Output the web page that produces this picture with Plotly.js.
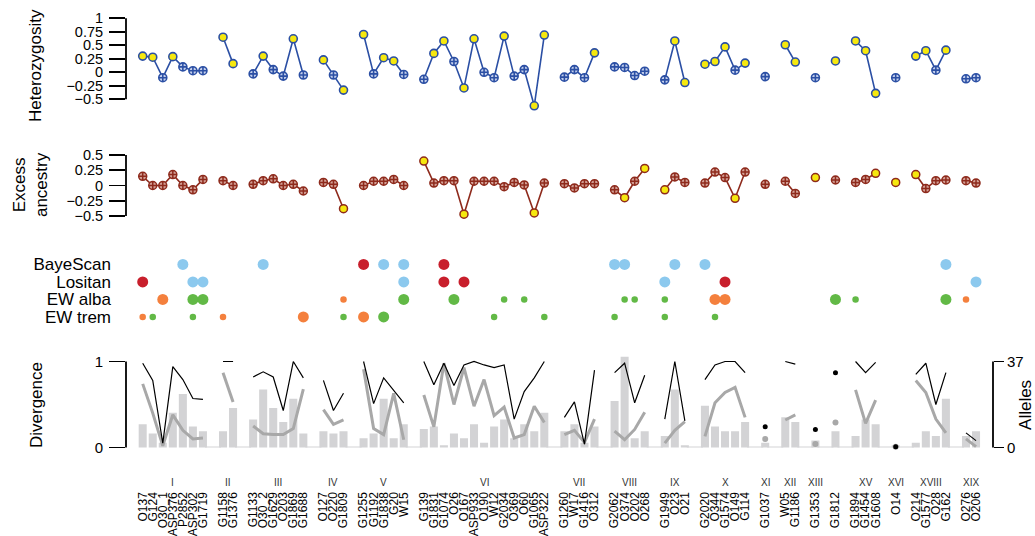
<!DOCTYPE html>
<html><head><meta charset="utf-8">
<script src="https://cdn.plot.ly/plotly-3.0.1.min.js"></script>
<style>html,body{margin:0;padding:0;background:#fff}#chart{width:1035px;height:536px}</style>
</head><body><div id="chart"></div>
<script>
// ---------------- data ----------------
const groupNames = ['I','II','III','IV','V','VI','VII','VIII','IX','X','XI','XII','XIII','','XV','XVI','XVIII','XIX'];
const groupSizes = [7,2,6,3,5,13,4,4,3,5,1,2,1,1,3,1,4,2];
const loci = ['O137','G124','O30_1','ASP376','P2852','ASP302','G1719',
  'G1158','G1376',
  'G1133','O30_2','G1629','O203','G1869','G1688',
  'O127','O220','G1809',
  'G1255','G1192','G1838','G20','W15',
  'G139','G1831','G1074','O26','O167','ASP933','O190','W12','G2034','O369','O60','G1065','ASP322',
  'G1260','W17','G1416','O312',
  'G2062','O374','O202','O268',
  'G1949','O23','O21',
  'G2020','O344','G1574','O149','G114',
  'G1037',
  'W05','G1186',
  'G1353',
  'G1812',
  'G1894','G1454','G1608',
  'O14',
  'O214','G1577','O28','G162',
  'O276','O206'];
const heterozygosity = [0.30,0.28,-0.10,0.29,0.10,0.03,0.03,
  0.65,0.16,
  -0.03,0.30,0.05,-0.07,0.62,-0.05,
  0.23,-0.05,-0.33,
  0.70,-0.03,0.27,0.21,-0.04,
  -0.13,0.35,0.58,0.20,-0.29,0.62,0.00,-0.10,0.67,-0.07,0.05,-0.62,0.69,
  -0.09,0.05,-0.10,0.36,
  0.10,0.09,-0.06,0.02,
  -0.14,0.58,-0.19,
  0.15,0.20,0.47,0.04,0.17,
  -0.08,
  0.51,0.19,
  -0.10,
  0.21,
  0.58,0.40,-0.39,
  -0.10,
  0.30,0.40,0.04,0.41,
  -0.12,-0.10];
const heterozygositySignificant = [1,1,0,1,0,0,0,
  1,1,
  0,1,0,0,1,0,
  1,0,1,
  1,0,1,1,0,
  0,1,1,0,1,1,0,0,1,0,0,1,1,
  0,0,0,1,
  0,0,0,0,
  0,1,1,
  1,1,1,0,1,
  0,
  1,1,
  0,
  1,
  1,1,1,
  0,
  1,1,0,1,
  0,0];
const excessAncestry = [0.15,0,0,0.18,0,-0.07,0.10,
  0.08,0,
  0.02,0.08,0.11,0,0.02,-0.09,
  0.05,0.02,-0.38,
  0,0.07,0.07,0.10,0,
  0.40,0.04,0.08,0.08,-0.47,0.07,0.07,0.07,-0.02,0.05,0.01,-0.45,0.04,
  0.03,-0.04,0.03,0.03,
  -0.07,-0.20,0.07,0.28,
  -0.07,0.14,0.05,
  0.04,0.22,0.13,-0.21,0.22,
  0.02,
  0.07,-0.13,
  0.13,
  0.09,
  0.05,0.10,0.20,
  0.05,
  0.18,-0.05,0.08,0.09,
  0.08,0.04];
const ancestrySignificant = [0,0,0,0,0,0,0,
  0,0,
  0,0,0,0,0,0,
  0,0,1,
  0,0,0,0,0,
  1,0,0,0,1,0,0,0,0,0,0,1,0,
  0,0,0,0,
  0,1,0,1,
  1,0,0,
  0,0,0,1,0,
  0,
  0,0,
  1,
  0,
  0,0,1,
  1,
  1,0,0,0,
  0,0];
const divergenceBlack = [0.98,0.78,0.05,0.94,0.79,0.57,0.56,
  1.0,1.0,
  0.82,0.88,0.82,0.43,1.0,0.81,
  0.78,0.43,0.63,
  1.0,0.51,0.81,0.67,0.52,
  1.0,0.73,0.98,0.72,0.96,1.0,0.96,0.93,0.96,0.33,0.65,0.81,1.0,
  0.35,0.53,0.04,0.90,
  0.87,0.98,0.52,0.84,
  0.33,1.0,0.31,
  0.79,0.96,1.0,1.0,0.87,
  0.24,
  1.0,0.97,
  0.21,
  0.87,
  1.0,0.87,0.99,
  0.01,
  0.85,0.98,0.50,0.87,
  0.17,0.08];
const divergenceGrey = [0.74,0.40,0.02,0.38,0.20,0.10,0.11,
  0.87,0.53,
  0.25,0.16,0.15,0.15,0.22,0.68,
  0.44,0.27,0.32,
  0.91,0.22,0.15,0.63,0.09,
  0.61,0.24,0.98,0.50,0.93,0.48,0.79,0.37,0.47,0.11,0.15,0.48,0.29,
  0.15,0.20,0.06,0.33,
  0.19,0.09,0.21,0.41,
  0.05,0.20,0.30,
  0.13,0.52,0.64,0.70,0.35,
  0.10,
  0.32,0.38,
  0.04,
  0.29,
  0.67,0.28,0.55,
  0.01,
  0.78,0.64,0.33,0.17,
  0.10,0.01];
const alleles = [10,6,2,15,23,9,7,
  7,17,
  12,25,17,11,21,6,
  7,6,7,
  4,6,21,4,10,
  8,9,1,6,4,10,2,9,12,4,10,7,15,
  7,10,2,9,
  20,39,4,7,
  5,25,1,
  18,9,7,7,11,
  2,
  13,11,
  3,
  7,
  5,12,10,
  1,
  2,7,5,21,
  5,7];
const gapAlleles = 0.4;

const methods = ['BayeScan','Lositan','EW alba','EW trem'];
const bayeScanLoci = ['P2852','O30_2','G1255','G1838','W15','G1074','G2062','O374','O23','G2020','G162'];
const bayeScanClass = ['blue','blue','red','blue','blue','red','blue','blue','blue','blue','blue'];
const bayeScanStrong = [1,1,1,1,1,1,1,1,1,1,1];
const lositanLoci = ['O137','ASP302','G1719','W15','G1074','O167','G1949','G1574','O206'];
const lositanClass = ['red','blue','blue','blue','red','red','blue','red','blue'];
const lositanStrong = [1,1,1,1,1,1,1,1,1];
const ewAlbaLoci = ['O30_1','ASP302','G1719','G1809','W15','O26','G2034','O60','O374','O202','G1949','O344','G1574','G1812','G1894','G162','O276'];
const ewAlbaClass = ['orange','green','green','orange','green','green','green','green','green','green','green','orange','orange','green','green','green','orange'];
const ewAlbaStrong = [1,1,1,0,1,1,0,0,0,0,0,1,1,1,0,1,0];
const ewTremLoci = ['O137','G124','ASP302','G1158','G1688','G1809','G1255','G1838','W12','ASP322','G2062','G1949','O344'];
const ewTremClass = ['orange','green','green','orange','orange','green','orange','green','green','green','green','green','green'];
const ewTremStrong = [0,0,0,0,1,0,1,1,0,0,0,0,0];

// ---------------- styles ----------------
const FONT = 'Liberation Sans, Arial, Helvetica, sans-serif';
const BLUE = '#2b4fa4', YELLOW = '#f6e80e', BLUE_FILL = '#c3cfec';
const RED = '#8e2a1c', RED_FILL = '#d3a096';
const dotColours = {blue:'#8cc9ee', red:'#c81f2c', green:'#62b946', orange:'#f4803d'};
const XDOM = [0.12174, 0.95942];

// ---------------- positions ----------------
const slot = []; const gapSlots = []; const groupCentres = [];
(function(){ let s = 0; groupSizes.forEach((n,g)=>{ const start = s; for(let i=0;i<n;i++) slot.push(s++); groupCentres.push((start + s - 1)/2); if (g < groupSizes.length-1) gapSlots.push(s); s++; }); })();
const slotOf = {}; loci.forEach((l,i)=> slotOf[l] = slot[i]);

function broken(vals){
  const xs=[], ys=[]; let k=0;
  groupSizes.forEach((n,g)=>{ for(let i=0;i<n;i++){ xs.push(slot[k]); ys.push(vals[k]); k++; } xs.push(slot[k-1]+0.5); ys.push(null); });
  return {x:xs, y:ys};
}
function singles(vals){
  const xs=[], ys=[]; let k=0;
  groupSizes.forEach(n=>{ if(n===1){ xs.push(slot[k]); ys.push(vals[k]); } k+=n; });
  return {x:xs, y:ys};
}

const traces = [];
const hb = broken(heterozygosity);
traces.push({x:hb.x, y:hb.y, xaxis:'x', yaxis:'y', mode:'lines', line:{color:BLUE, width:1.6}, connectgaps:false});
traces.push({x:slot, y:heterozygosity, xaxis:'x', yaxis:'y', mode:'markers', cliponaxis:false,
  marker:{size:8, opacity:1, symbol:heterozygositySignificant.map(f=>f?'circle':'circle-cross'),
    color:heterozygositySignificant.map(f=>f?YELLOW:BLUE_FILL), line:{color:BLUE, width:1.6}}});
const ab = broken(excessAncestry);
traces.push({x:ab.x, y:ab.y, xaxis:'x', yaxis:'y2', mode:'lines', line:{color:RED, width:1.6}, connectgaps:false});
traces.push({x:slot, y:excessAncestry, xaxis:'x', yaxis:'y2', mode:'markers', cliponaxis:false,
  marker:{size:8, opacity:1, symbol:ancestrySignificant.map(f=>f?'circle':'circle-cross'),
    color:ancestrySignificant.map(f=>f?YELLOW:RED_FILL), line:{color:RED, width:1.5}}});
[[bayeScanLoci,bayeScanClass,bayeScanStrong],[lositanLoci,lositanClass,lositanStrong],
 [ewAlbaLoci,ewAlbaClass,ewAlbaStrong],[ewTremLoci,ewTremClass,ewTremStrong]].forEach((m,i)=>{
  traces.push({x:m[0].map(l=>slotOf[l]), y:m[0].map(()=>methods[i]), xaxis:'x', yaxis:'y3', mode:'markers', cliponaxis:false,
    marker:{size:m[2].map(s=>s?11:6.5), opacity:1, color:m[1].map(c=>dotColours[c]), line:{width:0}}});
});
traces.push({type:'bar', x:slot, y:alleles, xaxis:'x', yaxis:'y4', marker:{color:'#d3d3d5', line:{width:0}}});
traces.push({type:'bar', x:gapSlots, y:gapSlots.map(()=>gapAlleles), xaxis:'x', yaxis:'y4', marker:{color:'#d3d3d5', line:{width:0}}});
const gb = broken(divergenceGrey), gs = singles(divergenceGrey);
traces.push({x:gb.x, y:gb.y, xaxis:'x', yaxis:'y5', mode:'lines', line:{color:'#a8a8a8', width:3}, connectgaps:false});
traces.push({x:gs.x, y:gs.y, xaxis:'x', yaxis:'y5', mode:'markers', marker:{color:'#a8a8a8', size:6, opacity:1}});
const kb = broken(divergenceBlack), ks = singles(divergenceBlack);
traces.push({x:kb.x, y:kb.y, xaxis:'x', yaxis:'y5', mode:'lines', line:{color:'#000', width:1.2}, connectgaps:false});
traces.push({x:ks.x, y:ks.y, xaxis:'x', yaxis:'y5', mode:'markers', marker:{color:'#000', size:5, opacity:1}});

const tickFont = {family:FONT, size:14.5, color:'#000'};
const yBase = {showgrid:false, zeroline:false, showline:false, ticks:'outside', ticklen:16, tickwidth:1.8, tickcolor:'#000',
  tickfont:tickFont, ticklabelstandoff:3, fixedrange:true, automargin:false, anchor:'x'};
const minus = v => (v<0 ? '\u2212' + Math.abs(v) : String(v));
const hetTicks = [-0.5,-0.25,0,0.25,0.5,0.75,1];
const ancTicks = [-0.5,-0.25,0,0.25,0.5];
const titleFont = {family:FONT, size:17, color:'#000'};
const title = (text, x, y) => ({text, xref:'paper', yref:'paper', x, y, xanchor:'center', yanchor:'middle',
  textangle:-90, showarrow:false, font:titleFont});

const layout = {
  width:1035, height:536, margin:{l:0,r:0,t:0,b:0}, showlegend:false,
  paper_bgcolor:'#fff', plot_bgcolor:'rgba(0,0,0,0)', barmode:'overlay', bargap:0.2,
  font:{family:FONT, color:'#000'},
  xaxis:{domain:XDOM, range:[-1.663, 84.69], anchor:'y4', showgrid:false, zeroline:false, showline:false, ticks:'',
    tickmode:'array', tickvals:slot, ticktext:loci, tickangle:-90, tickfont:{family:FONT, size:12, color:'#000'},
    ticklabelstandoff:37, automargin:false, fixedrange:true},
  yaxis:Object.assign({}, yBase, {domain:[0.7946,0.9709], range:[-0.7,1.05], tickmode:'array', tickvals:hetTicks, ticktext:hetTicks.map(minus)}),
  yaxis2:Object.assign({}, yBase, {domain:[0.5913,0.7165], range:[-0.55,0.55], tickmode:'array', tickvals:ancTicks, ticktext:ancTicks.map(minus)}),
  yaxis3:Object.assign({}, yBase, {domain:[0.3923,0.5229], type:'category', categoryorder:'array', categoryarray:methods.slice().reverse(),
    range:[-0.5,3.5], ticks:'', tickmode:'array', tickvals:methods, ticktext:methods,
    tickfont:{family:FONT, size:17, color:'#000'}, ticklabelstandoff:14}),
  yaxis4:Object.assign({}, yBase, {domain:[0.1571,0.3448], range:[-1.85,41.44], side:'right', tickmode:'array', tickvals:[0,37], ticklen:10, ticklabelstandoff:0, tickfont:{family:FONT, size:15, color:'#000'}}),
  yaxis5:Object.assign({}, yBase, {domain:[0.1571,0.3448], range:[-0.05,1.12], overlaying:'y4', side:'left', tickmode:'array', tickvals:[0,1], tickfont:{family:FONT, size:15, color:'#000'}}),
  shapes:[
    {type:'line', xref:'paper', yref:'y', x0:XDOM[0], x1:XDOM[0], y0:-0.5, y1:1, line:{color:'#000', width:1.8}},
    {type:'line', xref:'paper', yref:'y2', x0:XDOM[0], x1:XDOM[0], y0:-0.5, y1:0.5, line:{color:'#000', width:1.8}},
    {type:'line', xref:'paper', yref:'y5', x0:XDOM[0], x1:XDOM[0], y0:0, y1:1, line:{color:'#000', width:1.8}},
    {type:'line', xref:'paper', yref:'y4', x0:XDOM[1], x1:XDOM[1], y0:0, y1:37, line:{color:'#000', width:1.8}}
  ],
  annotations:[
    title('Heterozygosity', 0.0338, 0.8787),
    title('Excess<br>ancestry', 0.0290, 0.6548),
    title('Divergence', 0.0348, 0.2444),
    title('Alleles', 0.9903, 0.2444)
  ].concat(groupNames.map((g,i)=>({text:g, xref:'x', yref:'paper', x:groupCentres[i], y:0.0989, showarrow:false,
    xanchor:'center', yanchor:'middle', font:{family:FONT, size:10, color:'#333'}})))
};
Plotly.newPlot('chart', traces, layout, {displayModeBar:false, staticPlot:true});
</script></body></html>
